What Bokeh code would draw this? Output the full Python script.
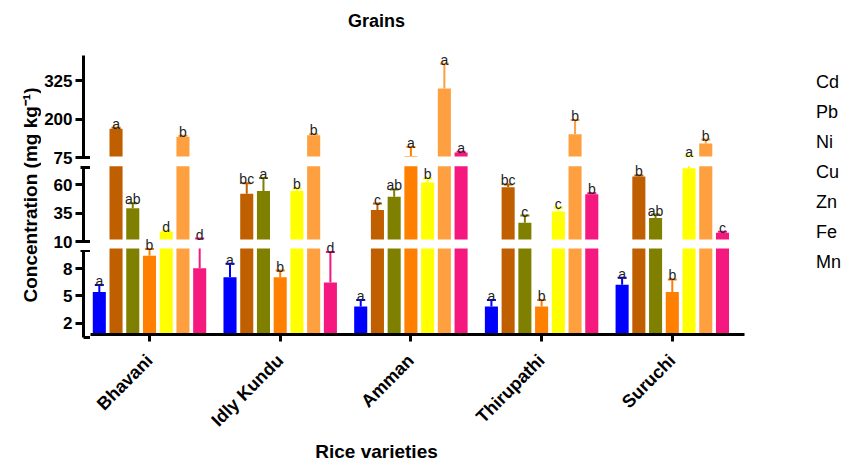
import numpy as np
from math import pi
from bokeh.plotting import figure
from bokeh.layouts import row, column
from bokeh.models import Range1d, FixedTicker, Legend, LegendItem
from bokeh.core.properties import value
from bokeh.embed import file_html
from bokeh.resources import INLINE

# ---------------- data ----------------
varieties = ["Bhavani", "Idly Kundu", "Amman", "Thirupathi", "Suruchi"]
metals = ["Cd", "Pb", "Ni", "Cu", "Zn", "Fe", "Mn"]

cd = [5.15, 6.8, 3.53, 3.53, 5.95]
pb = [166, 50.6, 36.1, 56.5, 65.9]
ni = [37.8, 53.0, 48.0, 24.9, 29.1]
cu = [9.19, 6.8, 76, 3.53, 5.15]
zn = [16.8, 53.0, 60.7, 34.8, 73.2]
fe = [140, 144.8, 298, 148, 117.4]
mn = [7.8, 6.2, 88, 50.1, 16.1]

cd_err = [0.77, 1.5, 0.73, 0.73, 0.77]
pb_err = [3, 9.4, 5.8, 2.4, 1.0]
ni_err = [4.4, 11.7, 6.5, 6.4, 3.1]
cu_err = [0.74, 0.74, 30, 0.73, 1.4]
zn_err = [1.0, 2.4, 3.5, 3.3, 3.0]
fe_err = [3, 3, 81, 47, 13]
mn_err = [3.1, 3.4, 2, 1.0, 0.8]

cd_sig = ["a", "a", "a", "a", "a"]
pb_sig = ["a", "bc", "c", "bc", "b"]
ni_sig = ["ab", "a", "ab", "c", "ab"]
cu_sig = ["b", "b", "a", "b", "b"]
zn_sig = ["d", "b", "b", "c", "a"]
fe_sig = ["b", "b", "a", "b", "b"]
mn_sig = ["d", "d", "a", "b", "c"]

top_ticks = [75, 200, 325]
mid_ticks = [10, 35, 60]
low_ticks = [2, 5, 8]
y_breaks = [(75, 406.5), (10, 75), (0.41, 10)]   # value span of each axis segment

title_text = "Grains"
x_title = "Rice varieties"
y_title = "Concentration (mg kg\u207b\u00b9)"

means = [cd, pb, ni, cu, zn, fe, mn]
errs = [cd_err, pb_err, ni_err, cu_err, zn_err, fe_err, mn_err]
sigs = [cd_sig, pb_sig, ni_sig, cu_sig, zn_sig, fe_sig, mn_sig]

# ---------------- style / layout (window pixels) ----------------
colors = ["#0000FF", "#C05F00", "#808000", "#FF8000", "#FFFF00", "#FFA040", "#F5187F"]
FONT = "Liberation Sans"
W = 841
ROW_T, ROW_B = 40, 440
FRAME_T, FRAME_B = 55, 337
FRAME_L, FRAME_R = 90, 744
band_px = [(55, 157), (167, 241), (250, 337)]
splits = [ROW_T, 166, 250, ROW_B]
GROUP_PX, FIRST_PX = 130.7, 149
PITCH, BAR_W = 0.128, 0.1
COMMON = dict(output_backend="svg", toolbar_location=None, title=None)


def blank(fig):
    fig.outline_line_color = None
    fig.grid.visible = False
    return fig


def label_axis(axis, text, size):
    axis.ticker = FixedTicker(ticks=[])
    axis.axis_line_color = None
    axis.major_tick_line_color = None
    axis.minor_tick_line_color = None
    axis.major_tick_out = 0
    axis.major_tick_in = 0
    axis.major_label_standoff = 0
    axis.axis_label = text
    axis.axis_label_standoff = 0
    axis.axis_label_text_font = FONT
    axis.axis_label_text_font_size = size
    axis.axis_label_text_font_style = "bold"
    axis.axis_label_text_color = "black"


ranges = []
for (lo, hi), (bt, bb) in zip(y_breaks, band_px):
    k = (hi - lo) / (bb - bt)
    ranges.append(Range1d(lo - (FRAME_B - bb) * k, hi + (bt - FRAME_T) * k))

xs = -(FIRST_PX - FRAME_L) / GROUP_PX
xe = xs + (FRAME_R - FRAME_L) / GROUP_PX

# ---------------- main plot ----------------
main = blank(figure(width=660, height=ROW_B - ROW_T, x_range=Range1d(xs, xe), y_range=ranges[0],
                    y_axis_location=None, min_border_left=0, min_border_right=6,
                    min_border_top=FRAME_T - ROW_T, min_border_bottom=ROW_B - FRAME_B, **COMMON))
main.extra_y_ranges = {"mid": ranges[1], "low": ranges[2]}

ax = main.xaxis[0]
ax.ticker = FixedTicker(ticks=list(range(len(varieties))))
ax.major_label_overrides = {i: v for i, v in enumerate(varieties)}
ax.major_label_orientation = pi / 4
ax.major_label_text_font = FONT
ax.major_label_text_font_size = "18px"
ax.major_label_text_font_style = "bold"
ax.major_label_text_color = "black"
ax.major_label_standoff = 16
ax.axis_line_width = 3
ax.major_tick_line_width = 3
ax.major_tick_out = 7
ax.major_tick_in = 0
ax.minor_tick_line_color = None

rnames = ["default", "mid", "low"]
gx = np.arange(len(varieties))
for (lo, hi), rn in zip(y_breaks, rnames):
    for mi in range(len(metals)):
        m = np.array(means[mi], dtype=float)
        e = np.array(errs[mi], dtype=float)
        s = np.array(sigs[mi])
        x = gx + (mi - 3) * PITCH
        col = colors[mi]
        show = m > lo
        if show.any():
            main.vbar(x=x[show], bottom=lo, top=np.minimum(m, hi)[show], width=BAR_W,
                      fill_color=col, line_color=None, y_range_name=rn)
        te = m + e
        el = (te > lo) & (m < hi)
        if el.any():
            main.segment(x0=x[el], x1=x[el], y0=np.maximum(m, lo)[el], y1=np.minimum(te, hi)[el],
                         line_color=col, line_width=2, y_range_name=rn)
        cap = (te >= lo) & (te <= hi)
        if cap.any():
            main.scatter(x=x[cap], y=te[cap], marker="dash", size=9, line_color=col,
                         line_width=2, y_range_name=rn)
        lab_m = (te >= lo) & (te < hi)
        if lab_m.any():
            main.text(x=x[lab_m], y=te[lab_m], text=list(s[lab_m]), text_align="center",
                      text_baseline="alphabetic", y_offset=-4, text_font=value(FONT),
                      text_font_size="14px", text_color="#222222", y_range_name=rn)

# ---------------- segmented y axes ----------------
tick_sets = [top_ticks, mid_ticks, low_ticks]
minor_sets = [[75], [10, 75], [10]]
ax_figs = []
for i, ((lo, hi), (bt, bb)) in enumerate(zip(y_breaks, band_px)):
    last = i == 2
    f = blank(figure(width=FRAME_L - 41, height=splits[i + 1] - splits[i], x_range=Range1d(0, 1),
                     y_range=Range1d(lo, hi), x_axis_location="below" if last else None,
                     y_axis_location="left", min_border_left=42, min_border_right=0,
                     min_border_top=bt - splits[i], min_border_bottom=splits[i + 1] - bb, **COMMON))
    ya = f.yaxis[0]
    ya.ticker = FixedTicker(ticks=tick_sets[i], minor_ticks=minor_sets[i])
    ya.axis_line_width = 3
    ya.major_tick_line_width = 3
    ya.major_tick_out = 8
    ya.major_tick_in = 0
    ya.minor_tick_line_width = 3
    ya.minor_tick_out = 3
    ya.minor_tick_in = 7
    ya.major_label_standoff = 3
    ya.major_label_text_font = FONT
    ya.major_label_text_font_size = "17px"
    ya.major_label_text_font_style = "bold"
    ya.major_label_text_color = "black"
    if last:
        xa = f.xaxis[0]
        xa.ticker = FixedTicker(ticks=[])
        xa.axis_line_width = 3
        xa.major_tick_line_color = None
        xa.minor_tick_line_color = None
    ax_figs.append(f)

# ---------------- y axis title (left strip) ----------------
YT_C = 190
lab = blank(figure(width=41, height=ROW_B - ROW_T, x_range=Range1d(0, 1), y_range=Range1d(0, 1),
                   x_axis_location=None, y_axis_location="left", min_border_left=40,
                   min_border_right=0, min_border_top=0,
                   min_border_bottom=int(ROW_B - (2 * YT_C - ROW_T)), **COMMON))
label_axis(lab.yaxis[0], y_title, "19px")

# ---------------- legend ----------------
LEG_OFF = 17
lg = blank(figure(width=W - 750, height=ROW_B - ROW_T, x_range=Range1d(0, 1), y_range=Range1d(0, 1),
                  x_axis_location=None, y_axis_location=None, min_border_left=22 - LEG_OFF,
                  min_border_top=FRAME_T - ROW_T, min_border_right=0, min_border_bottom=0, **COMMON))
items = []
for metal, c in zip(metals, colors):
    r = lg.vbar(x=[], top=[], width=1, fill_color=c, line_color=None)
    items.append(LegendItem(label=metal, renderers=[r]))
legend = Legend(items=items, location="top_left", glyph_width=30, glyph_height=14,
                label_height=21, spacing=9, padding=0, margin=LEG_OFF, border_line_color=None,
                background_fill_alpha=0, label_standoff=14, label_text_font=FONT,
                label_text_font_size="18px", label_text_color="black")
lg.add_layout(legend)

# ---------------- chart title and x title strips ----------------
TITLE_CX, XT_CX = 376, 378
tf = blank(figure(width=W, height=ROW_T, x_range=Range1d(0, 1), y_range=Range1d(0, 1),
                  x_axis_location="below", y_axis_location=None,
                  min_border_left=TITLE_CX - 76, min_border_right=W - TITLE_CX - 76,
                  min_border_top=0, min_border_bottom=ROW_T - 5, **COMMON))
label_axis(tf.xaxis[0], title_text, "18px")
tf.xaxis[0].axis_label_standoff = 5

xf = blank(figure(width=W, height=463 - ROW_B, x_range=Range1d(0, 1), y_range=Range1d(0, 1),
                  x_axis_location="below", y_axis_location=None,
                  min_border_left=XT_CX - 78, min_border_right=W - XT_CX - 78,
                  min_border_top=0, min_border_bottom=463 - ROW_B - 2, **COMMON))
label_axis(xf.xaxis[0], x_title, "19px")

layout = column(tf, row(lab, column(*ax_figs), main, lg), xf)
open("out.html", "w").write(file_html(layout, INLINE))
